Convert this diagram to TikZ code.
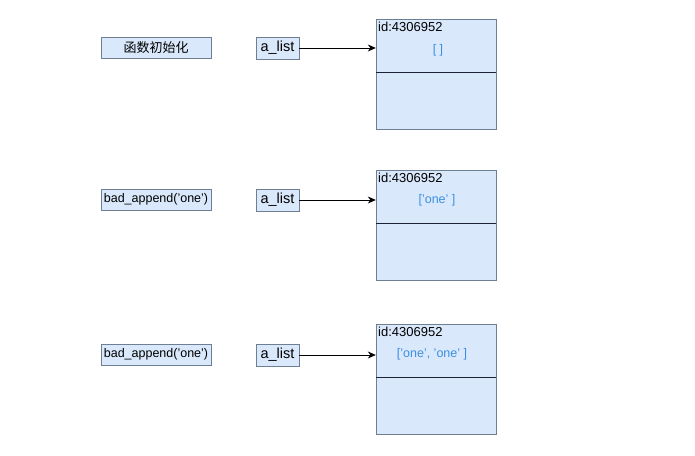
\documentclass[tikz,border=0pt]{standalone}
\usepackage{fontspec}
\setmainfont{Liberation Sans}
\newfontfamily\cjk{Noto Sans CJK SC}
\usetikzlibrary{arrows.meta}
\definecolor{boxfill}{HTML}{DAE8FC}
\definecolor{boxline}{HTML}{6F7F93}
\definecolor{valblue}{HTML}{3C8FE0}
\definecolor{divline}{HTML}{1A2233}
\tikzset{
  callbox/.style={draw=boxline, fill=boxfill, minimum width=110pt, minimum height=21pt, inner sep=0pt, font=\fontsize{12.5}{14}\selectfont},
  varbox/.style={draw=boxline, fill=boxfill, minimum width=43pt, minimum height=22pt, inner sep=0pt, font=\fontsize{14.5}{17}\selectfont},
  objbox/.style={draw=boxline, fill=boxfill, minimum width=120pt, minimum height=110pt, inner sep=0pt},
  idtext/.style={anchor=north west, inner sep=0pt, font=\fontsize{13}{15}\selectfont},
  valtext/.style={inner sep=0pt, text=valblue, font=\fontsize{12.5}{14}\selectfont},
  divider/.style={draw=divline, line width=0.9pt},
  ptr/.style={draw=black, line width=0.8pt, -{Stealth[length=8pt,width=7pt]}}
}
\begin{document}
\begin{tikzpicture}[x=1pt,y=-1pt]
\useasboundingbox (0,0) rectangle (695,455);
% row 1
\node[callbox] (c1) at (156,47.5) {\cjk\fontsize{13}{15}\selectfont 函数初始化};
\node[varbox] (v1) at (277.5,48) {a\_list};
\node[objbox] (o1) at (436,74) {};
\draw[divider] ([yshift=-54pt]o1.north west) coordinate (d1l) -- ([yshift=-54pt]o1.north east) coordinate (d1r);
\node[idtext] (i1) at (378,22) {id:4306952};
\node[valtext] (t1) at (438,50) {[ ]};
\draw[ptr] (v1.east) -- (v1.east -| o1.west);
% row 2
\node[callbox] (c2) at (156,199.5) {bad\_append('one')};
\node[varbox] (v2) at (277.5,200) {a\_list};
\node[objbox] (o2) at (436,225) {};
\draw[divider] ([yshift=-54pt]o2.north west) coordinate (d2l) -- ([yshift=-54pt]o2.north east) coordinate (d2r);
\node[idtext] (i2) at (378,173) {id:4306952};
\node[valtext] (t2) at (437,200) {['one' ]};
\draw[ptr] (v2.east) -- (v2.east -| o2.west);
% row 3
\node[callbox] (c3) at (156,354.5) {bad\_append('one')};
\node[varbox] (v3) at (277.5,355) {a\_list};
\node[objbox] (o3) at (436,379) {};
\draw[divider] ([yshift=-54pt]o3.north west) coordinate (d3l) -- ([yshift=-54pt]o3.north east) coordinate (d3r);
\node[idtext] (i3) at (378,327) {id:4306952};
\node[valtext] (t3) at (432,354) {['one', 'one' ]};
\draw[ptr] (v3.east) -- (v3.east -| o3.west);
\end{tikzpicture}
\end{document}
